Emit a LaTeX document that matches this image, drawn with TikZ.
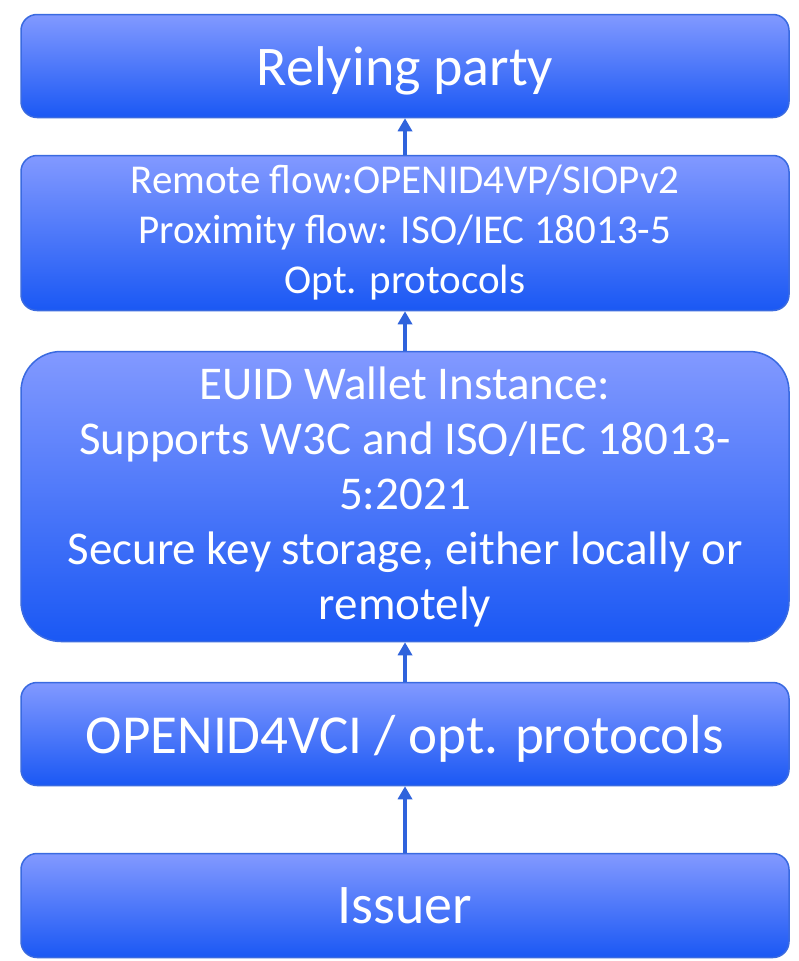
\documentclass[tikz,border=0pt]{standalone}
\usepackage{fontspec}
\setmainfont{Carlito}
\usetikzlibrary{arrows.meta}
\definecolor{boxtop}{HTML}{8299FF}
\definecolor{boxbot}{HTML}{1A58F4}
\definecolor{boxline}{HTML}{3A6AE0}
\definecolor{arrowc}{HTML}{2F63DC}

\begin{document}
\begin{tikzpicture}[x=1pt,y=-1pt]
        \useasboundingbox[fill=white] (0,0) rectangle (798,961);
        \begin{scope}[every node/.style={rectangle,rounded corners=16pt,draw=boxline,line width=1.5pt,
                      top color=boxtop,bottom color=boxbot,text=white,minimum width=768pt,align=center,inner sep=0pt}]
            \node (RP) [minimum height=103pt, text depth=0pt, font=\fontsize{56}{60}\selectfont] at (405,66) {Relying party};
            \node (PR) [minimum height=155pt, font=\fontsize{41}{50}\selectfont] at (405,233) {Remote flow:OPENID4VP/SIOPv2\\
                Proximity flow: ISO/IEC 18013-5\\ Opt. protocols};
            \node (W) [minimum height=290pt, rounded corners=40pt, font=\fontsize{47}{55}\selectfont] at (405,496.5) {EUID Wallet Instance:\\
                Supports W3C and ISO/IEC 18013-\\ 5:2021\\
                Secure key storage, either locally or\\ remotely};
            \node (VCI) [minimum height=103pt, text depth=0pt, font=\fontsize{55}{60}\selectfont] at (405,734) {OPENID4VCI / opt. protocols};
            \node (I) [minimum height=104pt, font=\fontsize{56}{60}\selectfont] at (405,905.5) {Issuer};
        \end{scope}

        \begin{scope}[every edge/.style={draw=arrowc,line width=4.5pt}]
            \path [-{Triangle[width=14pt,length=13pt]}] (I) edge (VCI);
            \path [-{Triangle[width=14pt,length=13pt]}] (VCI) edge (W);
            \path [-{Triangle[width=14pt,length=13pt]}] (W) edge (PR);
            \path [-{Triangle[width=14pt,length=13pt]}] (PR) edge (RP);
        \end{scope}
    \end{tikzpicture}
\end{document}
